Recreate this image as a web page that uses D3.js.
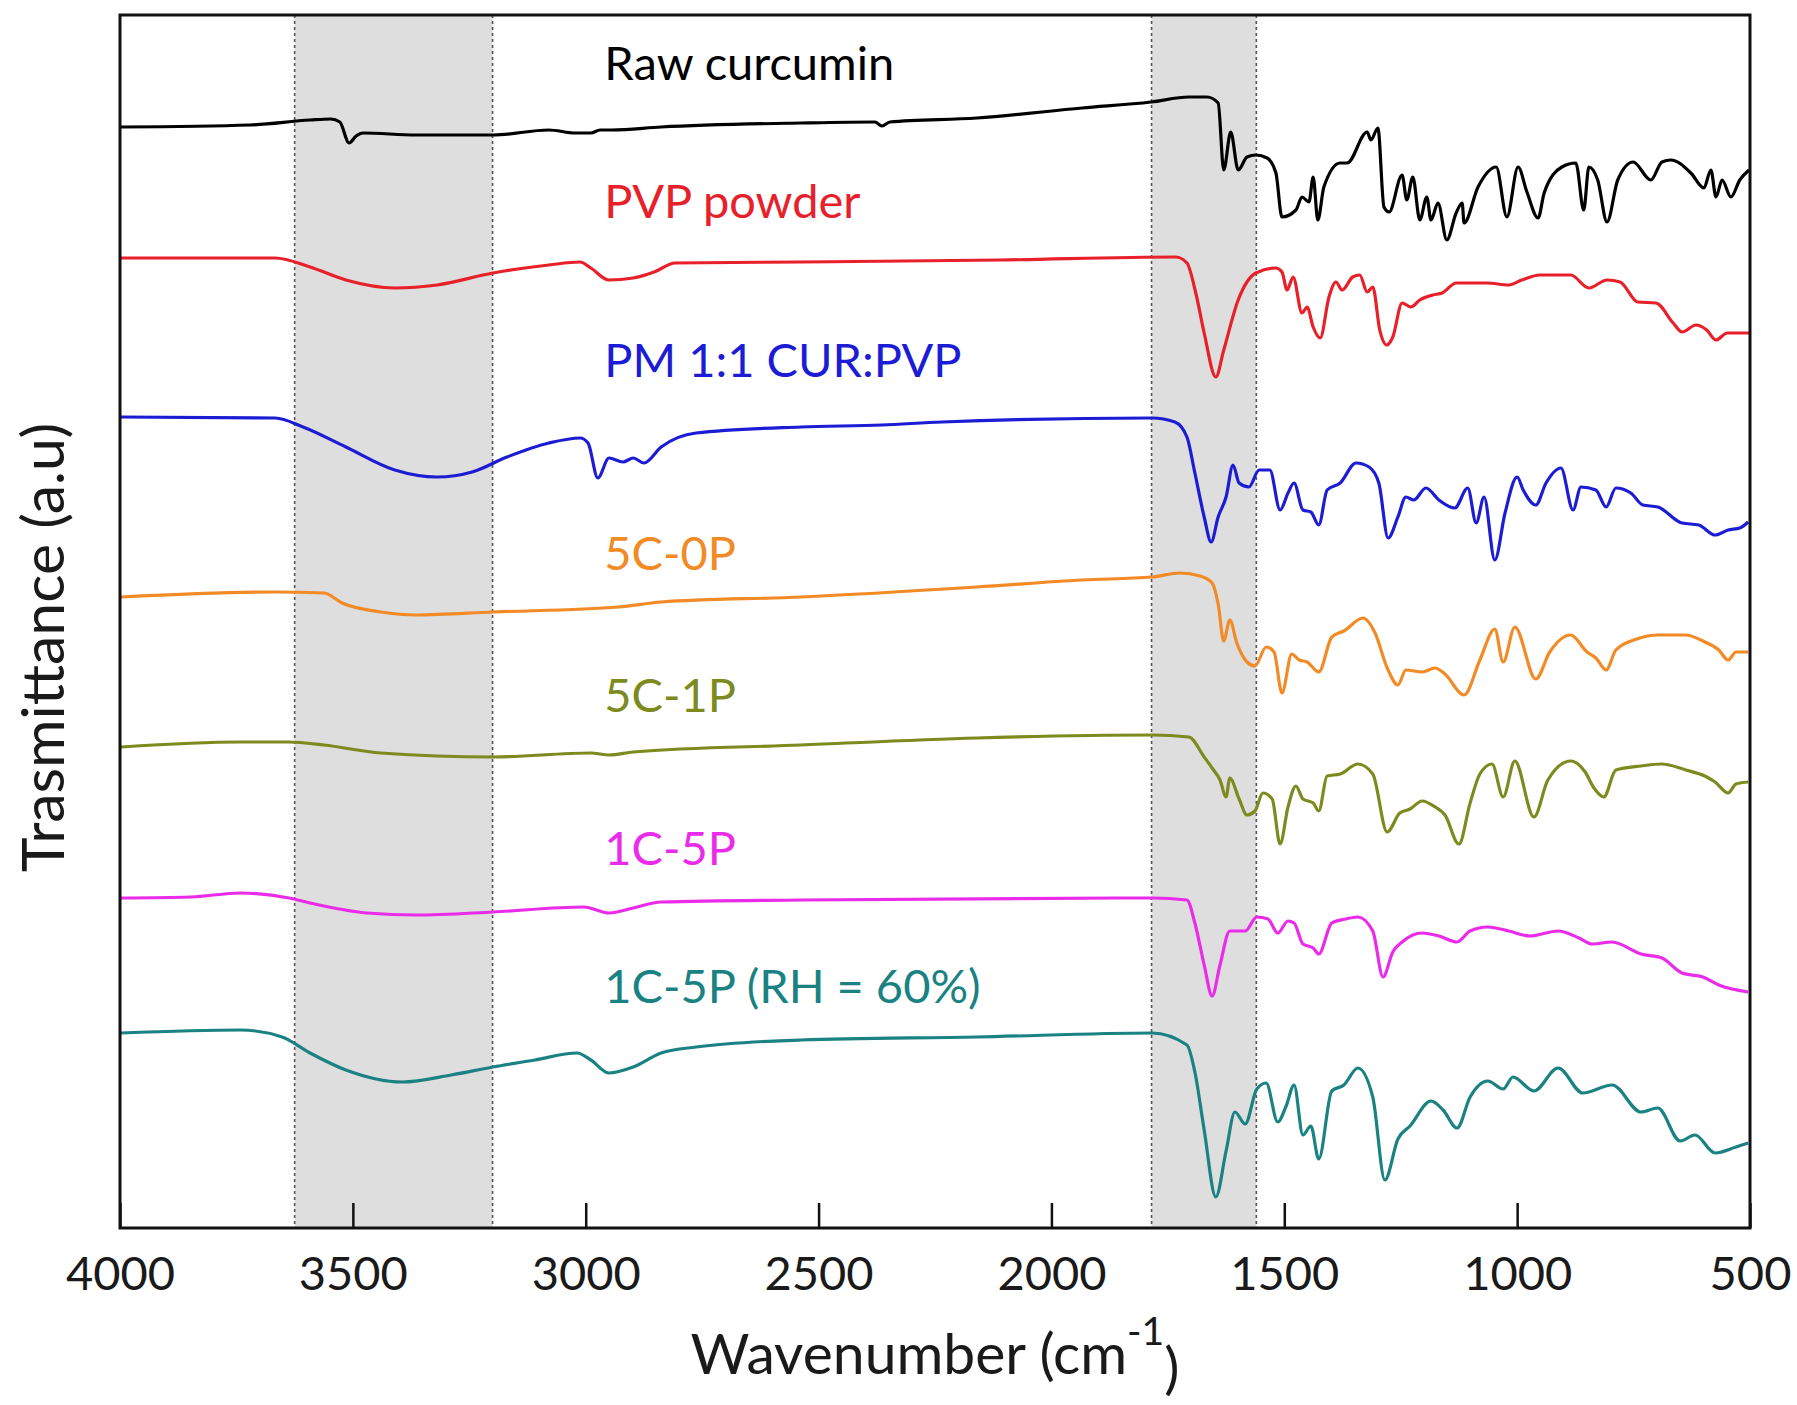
<!DOCTYPE html>
<html>
<head>
<meta charset="utf-8">
<script src="https://cdn.jsdelivr.net/npm/d3@7"></script>
<style>
  body { margin: 0; background: #fff; }
  text { font-family: Lato, "Open Sans", sans-serif; fill: #1a1a1a; }
</style>
</head>
<body>
<div id="chart"></div>
<script>
// FTIR spectra, [wavenumber cm-1, transmittance a.u. (offset)]
var rawCurcumin = [[3998,110.1],[3721,110.3],[3592,110.8],[3547,110.9],[3528,110.6],[3508,108.5],[3493,109.2],[3478,109.5],
  [3364,109.3],[3199,109.3],[3079,109.8],[3023,109.5],[2989,109.5],[2969,109.8],[2944,109.8],[2838,110.1],[2538,110.5],
  [2379,110.6],[2364,110.2],[2347,110.6],[2160,111.0],[1934,112.0],[1786,112.6],[1705,113.1],[1666,113.1],[1642,112.5],
  [1630,105.8],[1615,109.6],[1599,105.8],[1580,107.1],[1561,107.3],[1537,107.0],[1518,105.5],[1505,101.1],[1475,101.8],
  [1462,103.1],[1447,102.6],[1438,105.1],[1428,100.8],[1415,104.1],[1380,106.5],[1365,106.5],[1322,109.6],[1314,108.8],
  [1299,110.0],[1286,102.1],[1275,101.6],[1247,105.3],[1237,102.8],[1224,105.1],[1209,100.8],[1194,103.1],[1185,100.8],
  [1170,102.5],[1151,98.8],[1131,101.5],[1118,102.5],[1114,100.5],[1084,104.1],[1045,106.1],[1022,101.1],[998,106.1],
  [979,103.6],[955,101.0],[942,103.5],[904,106.1],[874,106.5],[857,101.8],[846,106.1],[827,104.8],[807,100.6],[784,104.8],
  [751,106.6],[713,104.8],[689,106.6],[670,106.8],[627,105.5],[599,104.0],[584,105.8],[573,103.1],[560,104.8],[541,103.1],
  [522,104.8],[502,105.8]];

var pvpPowder = [[3998,97.0],[3667,97.0],[3592,96.1],[3515,94.8],[3410,94.0],[3319,94.3],[3199,95.5],[3079,96.3],[3012,96.6],
  [2989,96.0],[2950,94.8],[2898,95.0],[2853,95.6],[2808,96.5],[2538,96.6],[2110,96.8],[1733,97.1],[1709,96.5],[1690,93.5],
  [1672,89.5],[1647,85.1],[1630,87.8],[1599,92.8],[1561,95.5],[1518,96.0],[1505,95.6],[1494,93.8],[1481,95.1],[1462,91.5],
  [1451,92.1],[1438,90.1],[1423,89.0],[1404,93.1],[1389,94.6],[1376,93.8],[1353,95.1],[1338,95.3],[1322,93.6],[1310,94.1],
  [1295,89.8],[1280,88.3],[1267,89.1],[1247,92.5],[1228,92.1],[1209,92.8],[1181,93.3],[1161,93.5],[1131,94.5],[1065,94.5],
  [1018,94.3],[990,94.8],[951,95.3],[885,95.3],[846,94.0],[807,94.8],[779,94.6],[741,92.6],[702,92.5],[665,90.5],[646,89.6],
  [616,90.3],[593,89.8],[573,88.8],[549,89.5],[502,89.5]];

var pm11 = [[3998,81.1],[3667,81.0],[3607,80.1],[3515,78.1],[3410,75.8],[3319,75.1],[3244,75.6],[3169,77.1],[3079,78.5],
  [3012,79.0],[2995,78.5],[2974,75.0],[2950,77.0],[2920,76.6],[2898,77.0],[2875,76.5],[2838,78.1],[2763,79.5],[2538,80.1],
  [2364,80.3],[2235,80.6],[1784,81.0],[1735,80.6],[1709,79.1],[1692,75.5],[1672,71.1],[1657,68.6],[1642,71.1],[1625,73.1],
  [1610,76.3],[1597,74.5],[1576,74.1],[1554,75.8],[1531,75.8],[1509,71.8],[1492,73.5],[1479,74.5],[1460,71.8],[1443,71.6],
  [1426,70.3],[1408,73.8],[1380,74.5],[1346,76.5],[1318,76.1],[1297,74.5],[1277,69.0],[1256,71.1],[1239,73.1],[1222,72.8],
  [1196,74.0],[1168,72.8],[1134,72.0],[1106,74.0],[1088,70.5],[1071,73.1],[1048,66.8],[1026,71.5],[1000,75.1],[987,73.8],
  [960,72.3],[938,74.5],[906,76.0],[880,71.8],[863,74.1],[831,73.8],[809,72.1],[788,74.0],[756,73.5],[730,72.3],[698,72.1],
  [646,70.5],[610,70.3],[575,69.3],[547,69.8],[522,70.0],[504,70.6]];

var c5p0 = [[3998,63.1],[3667,63.6],[3562,63.5],[3523,62.5],[3440,61.6],[3364,61.3],[3199,61.6],[2929,62.1],[2838,62.6],
  [2538,63.1],[2160,64.1],[1934,64.8],[1784,65.1],[1724,65.5],[1681,65.2],[1655,64.5],[1642,62.4],[1630,58.7],[1617,60.8],
  [1602,58.5],[1580,56.6],[1563,56.2],[1539,58.1],[1522,57.6],[1505,53.5],[1484,57.4],[1468,56.8],[1451,56.6],[1426,55.6],
  [1398,59.1],[1372,59.7],[1331,61.0],[1305,59.5],[1279,56.0],[1256,54.3],[1239,55.8],[1204,55.6],[1176,56.0],[1155,55.4],
  [1114,53.3],[1080,56.8],[1048,59.9],[1030,56.6],[1005,60.1],[960,54.9],[930,57.6],[885,59.3],[850,57.6],[831,57.0],
  [809,55.8],[788,57.8],[743,58.9],[698,59.3],[638,59.3],[601,58.7],[567,57.8],[547,56.8],[530,57.6],[504,57.6]];

var c5p1 = [[3998,48.1],[3742,48.6],[3637,48.6],[3562,48.3],[3440,47.5],[3199,47.1],[2989,47.5],[2950,47.3],[2898,47.6],
  [2538,48.3],[2160,49.0],[1784,49.3],[1705,49.1],[1672,47.1],[1655,46.0],[1638,44.8],[1625,43.1],[1617,45.0],[1597,42.9],
  [1580,41.3],[1563,41.7],[1546,43.5],[1526,42.9],[1509,38.4],[1492,42.1],[1475,44.2],[1460,42.9],[1438,42.5],[1426,41.7],
  [1408,45.2],[1380,45.4],[1342,46.4],[1310,45.4],[1279,39.6],[1252,41.5],[1230,41.9],[1204,42.7],[1176,42.1],[1155,41.3],
  [1125,38.4],[1101,42.5],[1080,45.4],[1054,46.4],[1030,43.1],[1005,46.7],[964,41.1],[934,44.8],[885,46.7],[854,45.6],
  [835,44.0],[814,43.1],[788,45.8],[734,46.2],[689,46.4],[638,45.8],[597,45.2],[575,44.6],[547,43.5],[530,44.4],[504,44.6]];

var c1p5 = [[3998,33.0],[3848,33.1],[3742,33.5],[3637,33.0],[3592,32.5],[3470,31.5],[3364,31.3],[3199,31.6],[3004,32.1],
  [2950,31.5],[2898,32.0],[2838,32.6],[2538,32.8],[1784,33.0],[1709,32.8],[1692,30.5],[1672,26.3],[1655,23.2],[1638,26.3],
  [1617,29.7],[1584,29.7],[1559,31.1],[1535,30.9],[1514,29.5],[1492,30.7],[1479,30.5],[1460,28.4],[1438,28.0],[1426,27.4],
  [1398,30.5],[1368,30.9],[1342,31.1],[1310,29.7],[1288,25.1],[1267,27.6],[1247,28.6],[1204,29.5],[1168,29.2],[1129,28.6],
  [1101,29.7],[1063,30.1],[1018,29.7],[973,29.2],[912,29.7],[867,29.0],[839,28.4],[796,28.6],[734,27.4],[689,27.0],
  [646,25.5],[601,25.1],[567,24.3],[504,23.6]];

var c1p5rh = [[3998,19.5],[3742,19.8],[3652,19.1],[3592,17.5],[3515,15.8],[3394,14.6],[3289,15.3],[3199,16.1],[3109,16.8],
  [3019,17.5],[2989,16.8],[2950,15.5],[2898,16.1],[2838,17.5],[2763,18.1],[2538,18.8],[2160,19.1],[1784,19.5],[1709,18.3],
  [1692,15.6],[1672,9.8],[1647,3.1],[1625,7.7],[1606,11.6],[1584,10.4],[1559,13.9],[1539,14.5],[1514,10.6],[1496,12.2],
  [1479,14.3],[1460,9.3],[1443,10.2],[1426,6.9],[1398,13.7],[1372,14.3],[1342,16.0],[1310,13.1],[1284,4.8],[1256,8.9],
  [1230,10.2],[1185,12.7],[1159,11.8],[1129,10.0],[1101,13.1],[1063,14.7],[1030,13.9],[1009,15.1],[964,13.7],[912,16.0],
  [859,13.5],[796,14.3],[734,11.6],[698,12.0],[650,8.7],[618,9.3],[575,7.5],[530,8.1],[504,8.5]];

var seriesNames = ["Raw curcumin", "PVP powder", "PM 1:1 CUR:PVP", "5C-0P", "5C-1P", "1C-5P", "1C-5P (RH = 60%)"];
var seriesData = [rawCurcumin, pvpPowder, pm11, c5p0, c5p1, c1p5, c1p5rh];
var seriesColors = ["#000000", "#e8202a", "#1c1cd4", "#f28a26", "#7c8a1e", "#ea2cea", "#1a8282"];

// shaded regions (cm-1)
var bands = [[3625, 3200], [1785, 1560]];
var xTicks = [4000, 3500, 3000, 2500, 2000, 1500, 1000, 500];

var W = 1797, H = 1405;
var margin = {top: 15, right: 47, bottom: 177, left: 120};
var w = W - margin.left - margin.right, h = H - margin.top - margin.bottom;

var svg = d3.select("#chart").append("svg").attr("width", W).attr("height", H);
var g = svg.append("g").attr("transform", "translate(" + margin.left + "," + margin.top + ")");

var x = d3.scaleLinear().domain([4000, 500]).range([0, w]);
var y = d3.scaleLinear().domain([0, 121.3]).range([h, 0]);

// bands
g.selectAll(".band").data(bands).enter().append("rect")
  .attr("x", function(d) { return x(d[0]); })
  .attr("width", function(d) { return x(d[1]) - x(d[0]); })
  .attr("y", 0).attr("height", h)
  .attr("fill", "#dedede");

var edges = [];
bands.forEach(function(b) { edges.push(b[0], b[1]); });
g.selectAll(".edge").data(edges).enter().append("line")
  .attr("x1", function(d) { return x(d); }).attr("x2", function(d) { return x(d); })
  .attr("y1", 0).attr("y2", h)
  .attr("stroke", "#555").attr("stroke-width", 1.6).attr("stroke-dasharray", "3,3");

// spectra
var line = d3.line()
  .x(function(d) { return x(d[0]); })
  .y(function(d) { return y(d[1]); })
  .curve(d3.curveMonotoneX);

g.selectAll(".spec").data(seriesData).enter().append("path")
  .attr("d", line)
  .attr("fill", "none")
  .attr("stroke", function(d, i) { return seriesColors[i]; })
  .attr("stroke-width", 3.2)
  .attr("stroke-linejoin", "round");

// labels
var labelY = [114.8, 101.0, 85.1, 65.8, 51.6, 36.3, 22.5];
g.selectAll(".lbl").data(seriesNames).enter().append("text")
  .attr("x", x(2960))
  .attr("y", function(d, i) { return y(labelY[i]); })
  .style("fill", function(d, i) { return seriesColors[i]; })
  .style("font-size", "47px")
  .text(function(d) { return d; });

// x axis
var xAxis = d3.axisBottom(x).tickValues(xTicks).tickSizeInner(-25).tickSizeOuter(0).tickPadding(29)
  .tickFormat(d3.format("d"));
var ax = g.append("g").attr("transform", "translate(0," + h + ")").call(xAxis);
ax.select(".domain").remove();
ax.selectAll(".tick line").attr("stroke", "#111").attr("stroke-width", 2.5);
ax.selectAll(".tick text").style("font-size", "47px").style("fill", "#1a1a1a");

// frame
g.append("rect").attr("width", w).attr("height", h)
  .attr("fill", "none").attr("stroke", "#111").attr("stroke-width", 3);

// axis titles
var xt = svg.append("text")
  .attr("x", margin.left + w / 2).attr("y", 1374)
  .attr("text-anchor", "middle").style("font-size", "57px");
xt.append("tspan").text("Wavenumber (cm");
xt.append("tspan").attr("dy", "-0.75em").style("font-size", "39px").text("-1");
xt.append("tspan").attr("dy", "0.75em").text(")");

svg.append("text")
  .attr("transform", "translate(64," + (margin.top + h / 2 + 26) + ") rotate(-90)")
  .attr("text-anchor", "middle").style("font-size", "59px")
  .text("Trasmittance (a.u)");
</script>
</body>
</html>
